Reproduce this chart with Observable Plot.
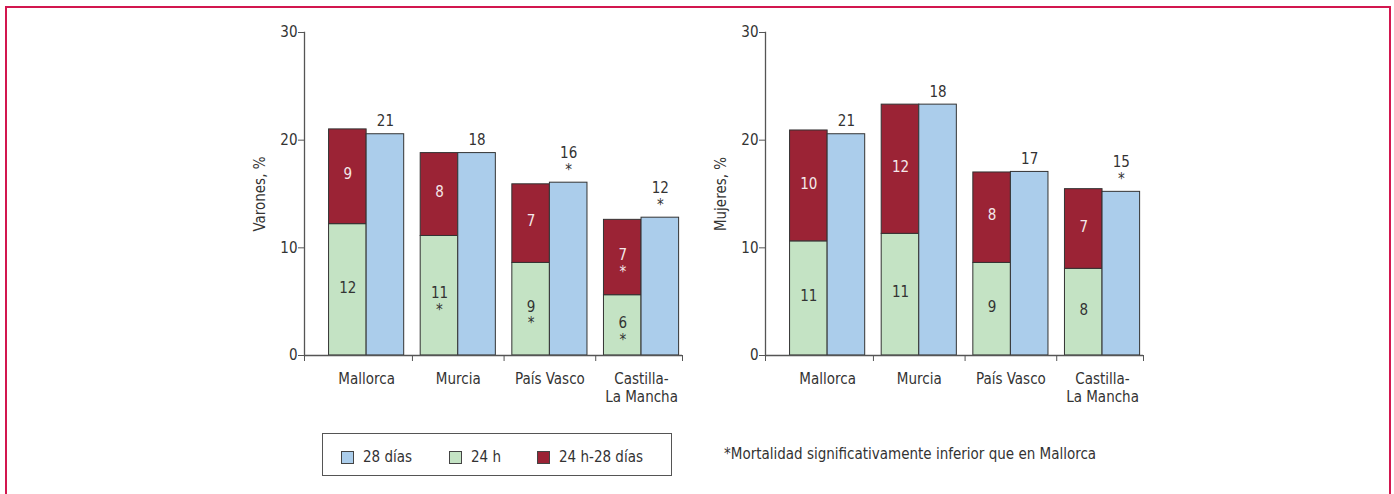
<!DOCTYPE html>
<html>
<head>
<meta charset="utf-8">
<script src="https://cdn.jsdelivr.net/npm/d3@7"></script>
<script src="https://cdn.jsdelivr.net/npm/@observablehq/plot@0.6"></script>
<style>
  html, body { margin: 0; padding: 0; background: #fff; }
  #wrap { position: relative; width: 1394px; height: 494px; overflow: hidden;
          font-family: "Liberation Sans Narrow", "DejaVu Sans Condensed", "Roboto", sans-serif; color: #333; }
  #border { position: absolute; left: 5px; top: 6px; width: 1382px; height: 520px; border: 2px solid #d2174f; }
  .panel { position: absolute; top: 0; }
  #legend { position: absolute; left: 322px; top: 433px; width: 350px; height: 43px; border: 1px solid #555;
            box-sizing: border-box; display: flex; align-items: center; font-size: 15px; }
  .item { position: absolute; top: 14px; display: flex; align-items: center; }
  .sw { width: 11px; height: 11px; border: 1px solid #444; margin-right: 9px; }
  #note { position: absolute; left: 724px; top: 445px; font-size: 15px; white-space: nowrap; }
</style>
</head>
<body>
<div id="wrap">
  <div id="border"></div>
  <div id="p1" class="panel" style="left:240px"></div>
  <div id="p2" class="panel" style="left:701px"></div>
  <div id="legend"></div>
  <div id="note"></div>
</div>
<script>
// ---- data ----
const regions = ["Mallorca", "Murcia", "País Vasco", "Castilla-\nLa Mancha"];
const yTicks = [0, 10, 20, 30];
const seriesNames = ["28 días", "24 h", "24 h-28 días"];

// Varones
const varones24h = [12.2, 11.1, 8.6, 5.6];
const varones24h28d = [8.8, 7.7, 7.3, 7.0];
const varones28d = [20.55, 18.8, 16.05, 12.8];
const varones24hLabels = ["12", "11*", "9*", "6*"];
const varones24h28dLabels = ["9", "8", "7", "7*"];
const varones28dLabels = ["21", "18", "16*", "12*"];

// Mujeres
const mujeres24h = [10.6, 11.3, 8.6, 8.05];
const mujeres24h28d = [10.3, 12.0, 8.4, 7.4];
const mujeres28d = [20.55, 23.3, 17.05, 15.2];
const mujeres24hLabels = ["11", "11", "9", "8"];
const mujeres24h28dLabels = ["10", "12", "8", "7"];
const mujeres28dLabels = ["21", "18", "17", "15*"];

const footnote = "*Mortalidad significativamente inferior que en Mallorca";

// ---- style ----
const colors = { "28 días": "#abcdeb", "24 h": "#c4e3c4", "24 h-28 días": "#9b2335" };
const font = '"Liberation Sans Narrow", "DejaVu Sans Condensed", "Roboto", sans-serif';
const bw = 0.41;
const xMin = -0.678, xMax = 3.447;

function lbl(s) { return s.replace("*", "\n*"); }

function panel(yLabel, g, r, b, gl, rl, bl) {
  const rows = regions.map((name, i) => ({
    i, name, g: g[i], r: r[i], b: b[i], gl: lbl(gl[i]), rl: lbl(rl[i]), bl: lbl(bl[i])
  }));
  return Plot.plot({
    width: 460, height: 420,
    marginLeft: 64, marginRight: 18, marginTop: 32, marginBottom: 65,
    x: { domain: [xMin, xMax] },
    y: { domain: [0, 30] },
    style: { fontFamily: font, fontSize: "15px", color: "#333", background: "transparent", overflow: "visible" },
    marks: [
      Plot.rect(rows, { x1: d => d.i - bw, x2: d => d.i, y1: 0, y2: d => d.g, fill: colors["24 h"], stroke: "#333", strokeWidth: 1 }),
      Plot.rect(rows, { x1: d => d.i - bw, x2: d => d.i, y1: d => d.g, y2: d => d.g + d.r, fill: colors["24 h-28 días"], stroke: "#333", strokeWidth: 1 }),
      Plot.rect(rows, { x1: d => d.i, x2: d => d.i + bw, y1: 0, y2: d => d.b, fill: colors["28 días"], stroke: "#333", strokeWidth: 1 }),
      Plot.text(rows, { x: d => d.i - bw / 2, y: d => d.g / 2, text: "gl", fill: "#333", fontSize: 15, lineHeight: 1.1, lineAnchor: "top", dy: -9 }),
      Plot.text(rows, { x: d => d.i - bw / 2, y: d => d.g + d.r / 2, text: "rl", fill: "#f4e8ea", fontSize: 15, lineHeight: 1.1, lineAnchor: "top", dy: -9 }),
      Plot.text(rows, { x: d => d.i + bw / 2, y: "b", text: "bl", fill: "#333", fontSize: 15, lineHeight: 1.1, lineAnchor: "bottom", dy: -8 }),
      Plot.text(rows, { x: "i", y: 0, text: "name", fill: "#333", fontSize: 15, lineAnchor: "top", lineHeight: 1.2, dy: 16 }),
      Plot.ruleY([0], { stroke: "#555", strokeWidth: 1.3 }),
      Plot.frame({ anchor: "left", stroke: "#555", strokeWidth: 1.3 }),
      Plot.axisX({ ticks: [xMin, 0.5, 1.5, 2.5, xMax], tickFormat: () => "", tickSize: 6, stroke: "#555", label: null }),
      Plot.axisY({ ticks: yTicks, tickSize: 6, tickPadding: 1, stroke: "#555", fontSize: 15,
        label: yLabel, labelAnchor: "center", labelArrow: "none", labelOffset: 50 })
    ]
  });
}

document.getElementById("p1").append(panel("Varones, %", varones24h, varones24h28d, varones28d, varones24hLabels, varones24h28dLabels, varones28dLabels));
document.getElementById("p2").append(panel("Mujeres, %", mujeres24h, mujeres24h28d, mujeres28d, mujeres24hLabels, mujeres24h28dLabels, mujeres28dLabels));

// legend
const legend = document.getElementById("legend");
const legendX = [18, 126, 214];
seriesNames.forEach((s, k) => {
  const it = document.createElement("div");
  it.className = "item";
  it.style.left = legendX[k] + "px";
  const sw = document.createElement("div");
  sw.className = "sw";
  sw.style.background = colors[s];
  const t = document.createElement("span");
  t.textContent = s;
  it.append(sw, t);
  legend.append(it);
});
document.getElementById("note").textContent = footnote;
</script>
</body>
</html>
